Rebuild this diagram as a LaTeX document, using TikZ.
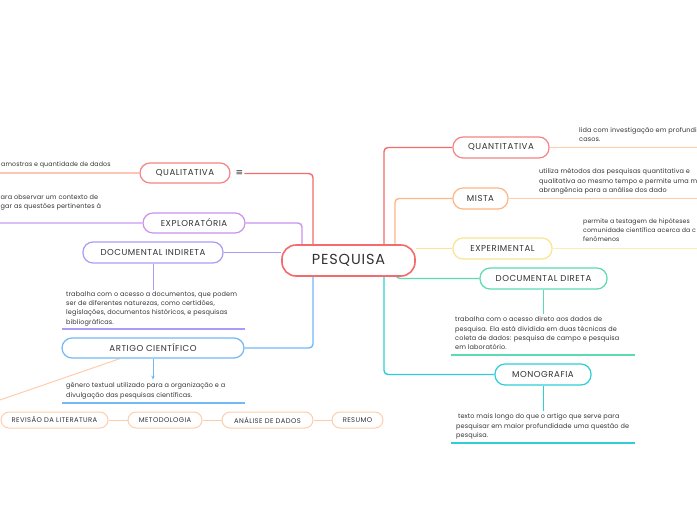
\documentclass[tikz,border=0pt]{standalone}
\usepackage{fontspec}
\setmainfont{Poppins}
\newfontfamily\lblfont[LetterSpace=6]{Poppins}
\newfontfamily\descfont[LetterSpace=2]{Poppins}
\newfontfamily\symfont{DejaVu Sans}
\usetikzlibrary{arrows.meta,backgrounds}
\definecolor{cred}{HTML}{F46B6B}
\definecolor{cred2}{HTML}{F78484}
\definecolor{corange}{HTML}{FDB685}
\definecolor{cpeach}{HTML}{FFCDAA}
\definecolor{cpink}{HTML}{FFC4B4}
\definecolor{cyellow}{HTML}{F8E68F}
\definecolor{cyellowl}{HTML}{FAEFB5}
\definecolor{cgreen}{HTML}{5BDAB4}
\definecolor{ccyan}{HTML}{2ECDD8}
\definecolor{cpurple}{HTML}{C993EE}
\definecolor{cpurplel}{HTML}{DDBDF5}
\definecolor{clav}{HTML}{A99CF8}
\definecolor{cblue}{HTML}{72B9F6}
\definecolor{ctext}{HTML}{333333}
\tikzset{
  topic/.style={draw, rounded corners=10pt, line width=1.2pt, fill=white, text=ctext,
    font=\lblfont\fontsize{8.6}{9}\selectfont, minimum height=21pt, inner sep=0pt},
  subtopic/.style={draw=cpeach, rounded corners=8pt, line width=1pt, fill=white, text=ctext,
    font=\lblfont\fontsize{6.8}{7}\selectfont, minimum height=16pt, inner sep=0pt},
  desc/.style={font=\descfont\fontsize{6.5}{9.4}\selectfont, text=ctext, align=left,
    anchor=north west, inner sep=0pt},
  conn/.style={line width=1.4pt, rounded corners=4pt},
  uline/.style={line width=1.2pt},
}
\begin{document}
\begin{tikzpicture}[x=1pt,y=-1pt]
\useasboundingbox (0,0) rectangle (697,520);
\clip (0,0) rectangle (697,520);
\coordinate (R) at (697,0);
\coordinate (L) at (0,0);

% central
\node[topic, draw=cred, line width=1.6pt, rounded corners=14pt, minimum width=133pt, minimum height=31pt,
  font=\lblfont\fontsize{14.5}{15}\selectfont] (pes) at (348.5,260.5) {PESQUISA};

% right branch
\node[topic, draw=cred2, minimum width=96pt] (quant) at (501,147.5) {QUANTITATIVA};
\node[topic, draw=corange, minimum width=55pt] (mista) at (480.5,198.5) {MISTA};
\node[topic, draw=cyellow, minimum width=99pt] (exper) at (502.5,248.5) {EXPERIMENTAL};
\node[topic, draw=cgreen, minimum width=127pt] (docdir) at (543.5,278.5) {DOCUMENTAL DIRETA};
\node[topic, draw=ccyan, minimum width=96pt] (mono) at (543,374.5) {MONOGRAFIA};

% left branch
\node[topic, draw=cred2, minimum width=90pt, minimum height=20pt] (qual) at (185,173) {QUALITATIVA};
\node[text=ctext, font=\symfont\fontsize{9}{10}\selectfont, inner sep=1pt] (qicon) at (239.5,173.5) {≡};
\node[topic, draw=cpurple, minimum width=102pt, minimum height=20pt] (expl) at (194,223) {EXPLORATÓRIA};
\node[topic, draw=clav, minimum width=140pt] (docind) at (153,252.5) {DOCUMENTAL INDIRETA};
\node[topic, draw=cblue, minimum width=182pt, minimum height=20pt] (artigo) at (153,348) {ARTIGO CIENTÍFICO};

% bottom row
\node[subtopic, minimum width=107pt] (rev) at (54.5,420) {REVISÃO DA LITERATURA};
\node[subtopic, minimum width=74pt] (met) at (165,420) {METODOLOGIA};
\node[subtopic, minimum width=91pt] (ana) at (267.5,420) {ANÁLISE DE DADOS};
\node[subtopic, minimum width=51pt] (res) at (357.5,420) {RESUMO};

% descriptions
\node[desc] (quantd) at (579,127) {lida com investigação em profundi\\casos.};
\node[desc] (mistad) at (539,168.5) {utiliza métodos das pesquisas quantitativa e\\qualitativa ao mesmo tempo e permite uma m\\abrangência para a análise dos dado};
\node[desc, font=\descfont\fontsize{6.2}{9.4}\selectfont] (experd) at (583,218) {permite a testagem de hipóteses\\comunidade científica acerca da c\\fenômenos};
\node[desc] (docdird) at (455,316.5) {trabalha com o acesso direto aos dados de\\pesquisa. Ela está dividida em duas técnicas de\\coleta de dados: pesquisa de campo e pesquisa\\em laboratório.};
\node[desc] (monod) at (456,413.5) {\ texto mais longo do que o artigo que serve para\\pesquisar em maior profundidade uma questão de\\pesquisa.};
\node[desc] (docindd) at (66,291) {trabalha com o acesso a documentos, que podem\\ser de diferentes naturezas, como certidões,\\legislações, documentos históricos, e pesquisas\\bibliográficas.};
\node[desc] (artigod) at (66,382.5) {gênero textual utilizado para a organização e a\\divulgação das pesquisas científicas.};
\node[desc, anchor=west, font=\descfont\fontsize{6.3}{9.4}\selectfont] (quald) at (1,165) {amostras e quantidade de dados};
\node[desc] (expld) at (0.5,194.5) {ara observar um contexto de\\gar as questões pertinentes à};

\begin{scope}[on background layer]
\fill[white] (0,0) rectangle (697,520);
% right connectors
\draw[conn, cred] ([xshift=35.5pt]pes.north) |- (quant.west);
\draw[conn, corange] ([xshift=46.5pt]pes.north) |- (mista.west);
\draw[conn, cyellow] (pes.east |- exper.west) -- (exper.west);
\draw[conn, cgreen] ([xshift=47.5pt,yshift=6pt]pes.south) |- (docdir.west);
\draw[conn, ccyan] ([xshift=35.5pt]pes.south) |- (mono.west);
% left connectors
\draw[conn, cred] ([xshift=-35.5pt]pes.north) |- (qicon.east);
\draw[conn, cpurple] ([xshift=-46.5pt]pes.north) |- (expl.east);
\draw[conn, clav] (pes.west |- docind.east) -- (docind.east);
\draw[conn, cblue] ([xshift=-35.5pt]pes.south) |- (artigo.east);
% outer lines
\draw[line width=1.2pt, cpeach] (quant.east) -- (quant.east -| R);
\draw[line width=1.2pt, cpeach] (mista.east) -- (mista.east -| R);
\draw[line width=1.2pt, cyellowl] (exper.east) -- (exper.east -| R);
\draw[line width=1.2pt, cpink] (qual.west) -- (qual.west -| L);
\draw[line width=1.2pt, cpurplel] (expl.west) -- (expl.west -| L);
% sub connectors
\draw[line width=1pt, cgreen] (docdir.south) -- ++(0,24);
\draw[line width=1pt, ccyan] (mono.south) -- ++(0,25);
\draw[line width=1pt, clav] (docind.south) -- ++(0,26);
\draw[line width=1pt, cblue, -{Stealth[length=4pt,width=3.5pt]}] (artigo.south) -- ++(0,21);
\draw[line width=1pt, cpeach] ([xshift=-33pt]artigo.south) -- (-3,401);
\draw[line width=1pt, cpeach] (rev) -- (met) (met) -- (ana) (ana) -- (res);
\end{scope}

% underlines
\draw[uline, draw=cgreen] (451,355) -- (635,355);
\draw[uline, draw=ccyan] (451,443) -- (635,443);
\draw[uline, draw=clav] (62,329) -- (245,329);
\draw[uline, draw=cblue] (62,403) -- (245,403);
\end{tikzpicture}
\end{document}
